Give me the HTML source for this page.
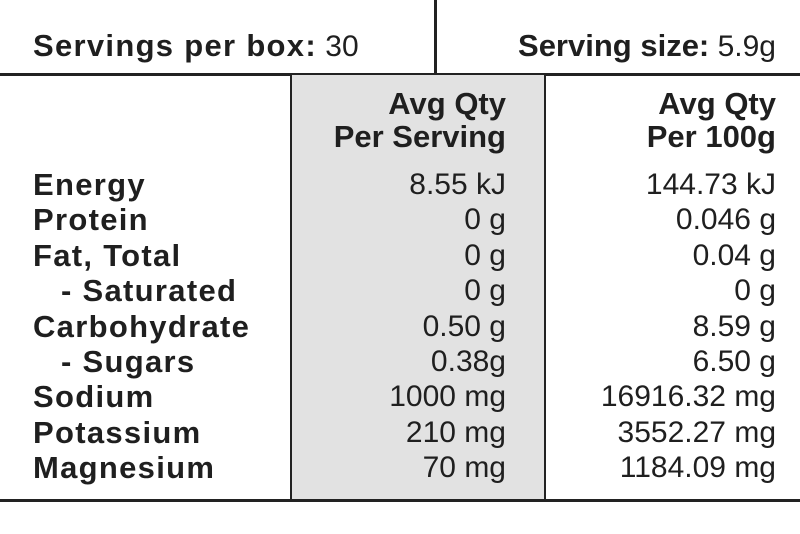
<!DOCTYPE html>
<html><head><style>
body{margin:0;width:800px;height:534px;background:#fff;position:relative;overflow:hidden;font-family:"Liberation Sans",sans-serif;color:#1f1f1f}
.a{position:absolute;white-space:nowrap;font-size:30px;line-height:35.4px}
.b{font-weight:bold;font-size:31px}
.l{letter-spacing:1.3px}
.r{text-align:right}
</style></head><body>
<div style="position:absolute;left:434px;top:0;width:3px;height:75px;background:#222"></div>
<div style="position:absolute;left:0;top:73px;width:800px;height:3px;background:#222"></div>
<div style="position:absolute;left:290px;top:75px;width:252px;height:424px;background:#e2e2e2;border:2px solid #222;border-top:none"></div>
<div style="position:absolute;left:0;top:499px;width:800px;height:3px;background:#222"></div>

<div class="a" style="left:33px;top:28px"><span class="b l">Servings per box:</span> 30</div>
<div class="a r" style="right:24px;top:28px"><span class="b">Serving size:</span> 5.9g</div>

<div class="a b r" style="right:294px;top:87px;line-height:33px">Avg Qty<br>Per Serving</div>
<div class="a b r" style="right:24px;top:87px;line-height:33px">Avg Qty<br>Per 100g</div>

<div class="a b l" style="left:33px;top:167px;line-height:35.4px">Energy<br>Protein<br>Fat, Total<br><span style="padding-left:28px">- Saturated</span><br>Carbohydrate<br><span style="padding-left:28px">- Sugars</span><br>Sodium<br>Potassium<br>Magnesium</div>
<div class="a r" style="right:294px;top:167px">8.55 kJ<br>0 g<br>0 g<br>0 g<br>0.50 g<br>0.38g<br>1000 mg<br>210 mg<br>70 mg</div>
<div class="a r" style="right:24px;top:167px">144.73 kJ<br>0.046 g<br>0.04 g<br>0 g<br>8.59 g<br>6.50 g<br>16916.32 mg<br>3552.27 mg<br>1184.09 mg</div>
</body></html>
